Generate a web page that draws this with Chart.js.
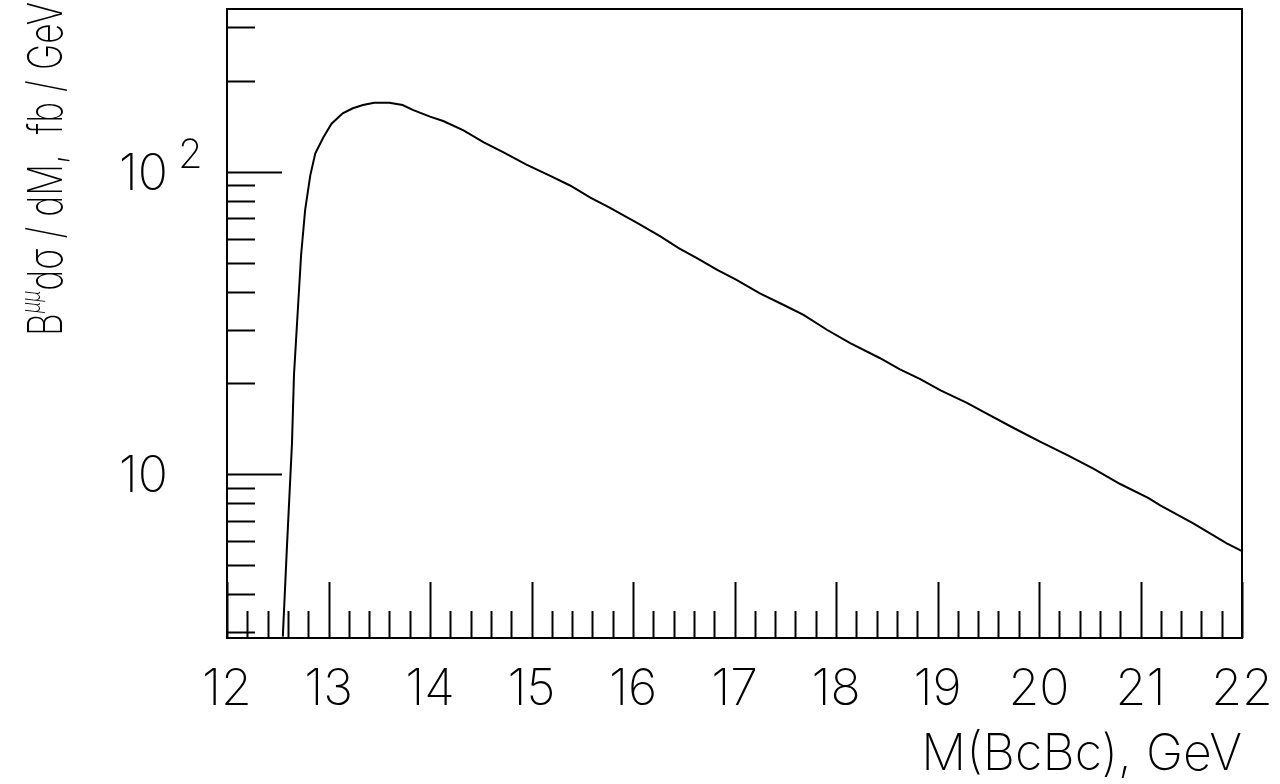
<!DOCTYPE html>
<html>
<head>
<meta charset="utf-8">
<script src="https://cdn.jsdelivr.net/npm/chart.js@4"></script>
<style>
  body { margin: 0; background: #fff; }
  canvas { display: block; }
</style>
</head>
<body>
<canvas id="massChart" width="1280" height="784"></canvas>
<script>
// M(BcBc) in GeV
const massGeV = [12.55, 12.59, 12.64, 12.66, 12.70, 12.73, 12.77, 12.82, 12.87, 12.95,
  13.03, 13.14, 13.24, 13.34, 13.45, 13.60, 13.73, 13.83, 14.00, 14.13,
  14.33, 14.53, 14.72, 14.95, 15.18, 15.38, 15.58, 15.77, 16.04, 16.27,
  16.45, 16.63, 16.83, 17.02, 17.25, 17.48, 17.68, 17.91, 18.14, 18.43,
  18.63, 18.83, 19.03, 19.29, 19.49, 19.75, 20.01, 20.27, 20.54, 20.80,
  21.08, 21.19, 21.52, 21.85, 22.00];
// B^mumu dsigma/dM, fb/GeV
const dSigma = [2.9, 5.7, 12.6, 21.3, 35.9, 53, 74.8, 97, 115, 130,
  144, 156, 162, 166, 169, 169, 166, 160, 152, 147,
  137, 125, 116, 105.5, 97, 90, 82, 76, 67.7, 61.1,
  55.9, 51.8, 47.3, 43.9, 39.6, 36.3, 33.6, 30, 27.1, 24.2,
  22.2, 20.6, 18.9, 17.2, 15.8, 14.2, 12.8, 11.6, 10.4, 9.27,
  8.32, 7.89, 6.87, 5.9, 5.56];

const xTickLabels = ['12', '13', '14', '15', '16', '17', '18', '19', '20', '21', '22'];
const yMajorTicks = [10, 100];
const yMinorTicks = [3, 4, 5, 6, 7, 8, 9, 20, 30, 40, 50, 60, 70, 80, 90, 200, 300];

const FONT = '"Inter", "Liberation Sans", sans-serif';

// frame, inward ticks and all the HIGZ-style labels
const frameAndLabels = {
  id: 'frameAndLabels',
  afterDatasetsDraw(chart) {
    const { ctx, chartArea: a, scales: { x, y } } = chart;
    ctx.save();
    ctx.strokeStyle = '#000';
    ctx.fillStyle = '#000';
    ctx.lineWidth = 2;
    ctx.strokeRect(a.left, a.top, a.right - a.left, a.bottom - a.top);

    // x ticks (every 0.2, long on integers)
    ctx.beginPath();
    for (let i = 0; i <= 50; i++) {
      const px = Math.round(x.getPixelForValue(12 + i * 0.2)) + 0.5;
      const len = i % 5 === 0 ? 56 : 27;
      ctx.moveTo(px, a.bottom);
      ctx.lineTo(px, a.bottom - len);
    }
    // y ticks on the left
    yMajorTicks.forEach(v => {
      const py = Math.round(y.getPixelForValue(v)) + 0.5;
      ctx.moveTo(a.left, py); ctx.lineTo(a.left + 55, py);
    });
    yMinorTicks.forEach(v => {
      const py = Math.round(y.getPixelForValue(v)) + 0.5;
      ctx.moveTo(a.left, py); ctx.lineTo(a.left + 28, py);
    });
    ctx.stroke();

    // x tick labels
    ctx.font = '200 50px ' + FONT;
    ctx.textAlign = 'center';
    ctx.textBaseline = 'alphabetic';
    xTickLabels.forEach(t => {
      ctx.fillText(t, x.getPixelForValue(Number(t)), a.bottom + 67);
    });

    // x title
    ctx.textAlign = 'right';
    ctx.fillText('M(BcBc), GeV', a.right, a.bottom + 132);

    // y tick labels
    const y10 = y.getPixelForValue(10);
    const y100 = y.getPixelForValue(100);
    ctx.textAlign = 'right';
    ctx.fillText('10', 168, y10 + 18);
    ctx.fillText('10', 168, y100 + 18);
    ctx.textAlign = 'left';
    ctx.font = '200 40px ' + FONT;
    ctx.fillText('2', 178, y100 - 4);

    // y title, rotated, squeezed to fit between y=336 and y=2
    const bigFont = '200 48px ' + FONT;
    const supFont = 'italic 200 26px ' + FONT;
    ctx.font = bigFont;
    const wB = ctx.measureText('B').width;
    const wRest = ctx.measureText('d\u03c3 / dM,  fb / GeV').width;
    ctx.font = supFont;
    const wSup = ctx.measureText('\u03bc\u03bc').width;
    const total = wB + wSup + wRest;
    ctx.translate(62, 336);
    ctx.rotate(-Math.PI / 2);
    ctx.scale(Math.min(1, 334 / total), 1);
    ctx.textAlign = 'left';
    let cx = 0;
    ctx.font = bigFont;
    ctx.fillText('B', cx, 0);
    cx += wB;
    ctx.font = supFont;
    ctx.fillText('\u03bc\u03bc', cx, -22);
    cx += wSup;
    ctx.font = bigFont;
    ctx.fillText('d\u03c3 / dM,  fb / GeV', cx, 0);
    ctx.restore();
  }
};

new Chart(document.getElementById('massChart'), {
  type: 'line',
  data: {
    datasets: [{
      data: massGeV.map((m, i) => ({ x: m, y: dSigma[i] })),
      borderColor: '#000',
      borderWidth: 2,
      pointRadius: 0,
      tension: 0,
      fill: false
    }]
  },
  options: {
    responsive: false,
    animation: false,
    layout: { padding: { left: 227, top: 9, right: 38, bottom: 146 } },
    plugins: { legend: { display: false }, tooltip: { enabled: false } },
    scales: {
      x: { type: 'linear', min: 12, max: 22, display: false },
      y: { type: 'logarithmic', min: 2.87, max: 345, display: false }
    }
  },
  plugins: [frameAndLabels]
});
</script>
</body>
</html>
